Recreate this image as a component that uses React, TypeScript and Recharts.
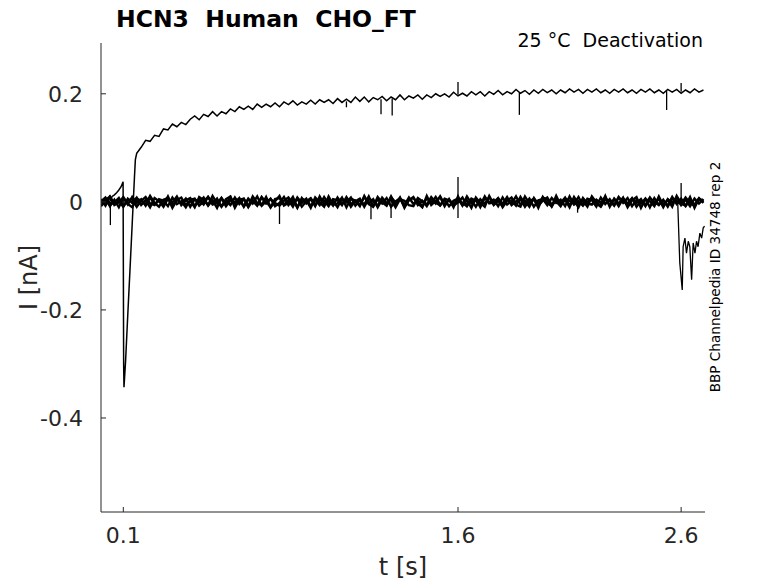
import React from 'react';
import { LineChart, Line, XAxis, YAxis } from 'recharts';

// sample times of the recorded sweeps (s)
const tGrid = [
  0.00, 0.02, 0.04, 0.06, 0.08, 0.10, 0.12, 0.14, 0.16, 0.18,
  0.20, 0.22, 0.24, 0.26, 0.28, 0.30, 0.32, 0.34, 0.36, 0.38,
  0.40, 0.42, 0.44, 0.46, 0.48, 0.50, 0.52, 0.54, 0.56, 0.58,
  0.60, 0.62, 0.64, 0.66, 0.68, 0.70, 0.72, 0.74, 0.76, 0.78,
  0.80, 0.82, 0.84, 0.86, 0.88, 0.90, 0.92, 0.94, 0.96, 0.98,
  1.00, 1.02, 1.04, 1.06, 1.08, 1.10, 1.12, 1.14, 1.16, 1.18,
  1.20, 1.22, 1.24, 1.26, 1.28, 1.30, 1.32, 1.34, 1.36, 1.38,
  1.40, 1.42, 1.44, 1.46, 1.48, 1.50, 1.52, 1.54, 1.56, 1.58,
  1.60, 1.62, 1.64, 1.66, 1.68, 1.70, 1.72, 1.74, 1.76, 1.78,
  1.80, 1.82, 1.84, 1.86, 1.88, 1.90, 1.92, 1.94, 1.96, 1.98,
  2.00, 2.02, 2.04, 2.06, 2.08, 2.10, 2.12, 2.14, 2.16, 2.18,
  2.20, 2.22, 2.24, 2.26, 2.28, 2.30, 2.32, 2.34, 2.36, 2.38,
  2.40, 2.42, 2.44, 2.46, 2.48, 2.50, 2.52, 2.54, 2.56, 2.58,
  2.60, 2.62, 2.64, 2.66, 2.68, 2.70,
];

// baseline sweeps (nA), one value per tGrid sample
const baseA = [
  0.005, -0.007, 0.009, -0.004, 0.002, -0.009, 0.006, -0.002, 0.008, -0.006,
  0.003, -0.010, 0.007, 0.001, -0.005, 0.010, -0.008, 0.004, -0.003, 0.006,
  -0.009, 0.005, -0.001, 0.008, -0.007, 0.003, -0.011, 0.007, -0.004, 0.009,
  -0.006, 0.002, -0.008, 0.006, -0.003, 0.010, -0.007, 0.001, -0.010, 0.005,
  0.007, -0.005, 0.003, -0.009, 0.008, -0.002, 0.006, -0.008, 0.004, -0.006,
  0.009, -0.004, 0.002, -0.010, 0.006, -0.001, 0.008, -0.007, 0.003, -0.005,
  0.010, -0.008, 0.004, -0.003, 0.007, -0.009, 0.001, 0.006, -0.006, 0.008,
  -0.004, 0.003, -0.009, 0.007, -0.002, 0.009, -0.006, 0.004, -0.008, 0.002,
  0.006, -0.007, 0.010, -0.003, 0.005, -0.010, 0.007, -0.001, 0.004, -0.008,
  0.008, -0.005, 0.002, -0.007, 0.009, -0.004, 0.006, -0.009, 0.003, 0.005,
  -0.006, 0.007, -0.002, 0.004, -0.008, 0.010, -0.005, 0.001, -0.007, 0.006,
  0.003, -0.009, 0.008, -0.004, 0.005, -0.006, 0.009, -0.002, 0.007, -0.008,
  0.004, -0.003, 0.006, -0.010, 0.007, -0.005, 0.002, -0.007, 0.009, -0.004,
  0.006, -0.008, 0.003, -0.005, 0.007, -0.002,
];

const baseB = [
  -0.003, 0.006, -0.008, 0.004, -0.010, 0.007, -0.005, 0.009, -0.002, 0.005,
  -0.007, 0.008, -0.004, 0.002, -0.009, 0.006, -0.001, 0.010, -0.006, 0.003,
  0.007, -0.008, 0.004, -0.005, 0.009, -0.003, 0.006, -0.009, 0.002, -0.006,
  0.008, -0.004, 0.005, -0.010, 0.003, -0.007, 0.009, -0.002, 0.006, -0.008,
  -0.002, 0.009, -0.006, 0.004, -0.011, 0.007, -0.003, 0.005, -0.008, 0.010,
  -0.005, 0.003, -0.007, 0.008, -0.004, 0.006, -0.009, 0.002, -0.006, 0.009,
  -0.003, 0.005, -0.010, 0.004, -0.006, 0.008, -0.001, 0.007, -0.009, 0.003,
  0.009, -0.006, 0.002, -0.008, 0.006, -0.003, 0.010, -0.005, 0.004, -0.007,
  -0.001, 0.008, -0.007, 0.003, -0.009, 0.005, -0.004, 0.009, -0.006, 0.002,
  -0.008, 0.006, -0.003, 0.010, -0.005, 0.002, -0.009, 0.007, -0.004, 0.008,
  0.004, -0.009, 0.006, -0.002, 0.008, -0.006, 0.003, -0.010, 0.007, -0.003,
  -0.005, 0.004, -0.002, 0.009, -0.007, 0.005, -0.008, 0.006, -0.003, 0.007,
  -0.009, 0.002, -0.006, 0.008, -0.004, 0.006, -0.010, 0.005, -0.002, 0.008,
  -0.006, 0.004, -0.008, 0.006, -0.003, 0.005,
];

const baseC = [
  0.001, 0.008, -0.005, -0.001, 0.007, -0.008, 0.003, 0.005, -0.009, 0.002,
  0.009, -0.003, -0.006, 0.005, 0.002, -0.008, 0.008, -0.004, 0.001, -0.010,
  0.004, 0.006, -0.007, 0.001, 0.009, -0.005, -0.002, 0.007, -0.008, 0.003,
  -0.001, 0.007, -0.009, 0.004, 0.001, -0.006, 0.008, -0.003, 0.005, -0.002,
  -0.007, 0.002, 0.008, -0.004, 0.006, -0.009, 0.001, 0.007, -0.005, 0.004,
  0.002, -0.008, 0.005, 0.003, -0.006, 0.009, -0.004, 0.001, 0.006, -0.009,
  0.006, 0.001, -0.007, 0.008, -0.002, 0.004, -0.010, 0.005, 0.002, -0.006,
  -0.008, 0.007, 0.001, -0.005, 0.009, -0.001, -0.007, 0.006, 0.003, -0.004,
  0.005, -0.002, -0.008, 0.006, 0.002, -0.006, 0.010, -0.003, -0.001, 0.007,
  -0.004, 0.009, -0.006, 0.001, 0.005, -0.009, 0.003, 0.004, -0.007, 0.002,
  0.008, -0.005, 0.001, -0.008, 0.006, 0.002, -0.004, 0.009, -0.006, 0.000,
  0.007, -0.003, -0.009, 0.004, 0.002, -0.007, 0.008, 0.001, -0.005, 0.006,
  -0.002, 0.005, -0.008, 0.007, 0.000, -0.006, 0.004, -0.009, 0.006, 0.001,
  -0.004, 0.008, -0.002, -0.007, 0.005, -0.001,
];

const baseD = [
  -0.008, 0.003, 0.010, -0.006, -0.001, 0.009, -0.004, -0.010, 0.006, 0.002,
  -0.005, 0.011, -0.002, -0.009, 0.004, 0.007, -0.011, 0.003, 0.008, -0.006,
  0.002, -0.010, 0.009, 0.003, -0.006, 0.011, -0.003, -0.008, 0.005, 0.010,
  -0.011, 0.004, 0.006, -0.008, 0.010, -0.002, -0.006, 0.009, -0.010, 0.001,
  0.011, -0.007, -0.002, 0.009, -0.010, 0.005, 0.003, -0.011, 0.008, -0.001,
  -0.009, 0.010, -0.005, -0.003, 0.008, -0.010, 0.006, 0.002, -0.008, 0.011,
  -0.004, -0.009, 0.009, -0.001, -0.007, 0.010, -0.005, 0.008, -0.011, 0.004,
  0.007, -0.003, -0.010, 0.011, -0.006, 0.002, 0.009, -0.008, 0.005, -0.010,
  0.010, -0.006, 0.003, -0.011, 0.008, -0.002, -0.009, 0.011, -0.004, 0.006,
  -0.010, 0.002, 0.008, -0.005, -0.009, 0.010, -0.003, 0.006, -0.011, 0.009,
  -0.002, -0.008, 0.011, -0.006, 0.004, -0.010, 0.009, -0.004, 0.002, -0.009,
  0.010, -0.001, -0.007, 0.011, -0.009, 0.006, -0.003, 0.008, -0.010, 0.003,
  0.009, -0.011, 0.005, 0.001, -0.008, 0.010, -0.006, 0.004, -0.009, 0.011,
  -0.003, -0.007, 0.009, -0.011, 0.006, 0.002,
];

// activating sweep: pre-step ramp, capacitive transient at 0.1 s
const riseT = [0.00, 0.01, 0.02, 0.03, 0.04, 0.05, 0.06, 0.07, 0.08, 0.09, 0.099, 0.1015, 0.103, 0.110, 0.120, 0.130, 0.140, 0.150, 0.154];
const riseI = [0.003, -0.004, 0.002, -0.003, 0.001, 0.010, 0.013, 0.017, 0.022, 0.028, 0.037, -0.300, -0.343, -0.296, -0.209, -0.125, -0.039, 0.046, 0.078];

// activating sweep from 0.16 s on (tGrid samples 0.16 ... 2.70)
const actI = [
  0.090, 0.101, 0.114, 0.112, 0.123, 0.121, 0.135, 0.133, 0.144, 0.139,
  0.147, 0.143, 0.153, 0.159, 0.152, 0.162, 0.158, 0.167, 0.159, 0.167,
  0.163, 0.172, 0.167, 0.176, 0.171, 0.177, 0.171, 0.181, 0.175, 0.181,
  0.176, 0.183, 0.176, 0.185, 0.180, 0.187, 0.179, 0.185, 0.181, 0.188,
  0.181, 0.189, 0.184, 0.189, 0.182, 0.191, 0.184, 0.190, 0.184, 0.194,
  0.186, 0.194, 0.185, 0.193, 0.189, 0.195, 0.187, 0.194, 0.189, 0.198,
  0.189, 0.196, 0.192, 0.198, 0.190, 0.198, 0.193, 0.200, 0.195, 0.200,
  0.194, 0.203, 0.196, 0.201, 0.196, 0.204, 0.198, 0.204, 0.196, 0.204,
  0.199, 0.206, 0.198, 0.204, 0.200, 0.208, 0.201, 0.206, 0.199, 0.207,
  0.201, 0.208, 0.202, 0.207, 0.200, 0.207, 0.202, 0.209, 0.203, 0.208,
  0.201, 0.208, 0.203, 0.209, 0.202, 0.207, 0.201, 0.208, 0.203, 0.209,
  0.202, 0.207, 0.201, 0.208, 0.203, 0.209, 0.202, 0.207, 0.201, 0.208,
  0.203, 0.208, 0.201, 0.207, 0.202, 0.209, 0.203, 0.207,
];

// sweep that breaks away at the end of the record
const tailT = [2.585, 2.594, 2.605, 2.609, 2.617, 2.624, 2.632, 2.639, 2.647, 2.654, 2.662, 2.669, 2.676, 2.684, 2.692, 2.699, 2.705];
const tailI = [-0.004, -0.113, -0.163, -0.083, -0.067, -0.095, -0.073, -0.083, -0.144, -0.076, -0.095, -0.073, -0.083, -0.058, -0.067, -0.048, -0.045];

// short artefact spikes: time, lower and upper end (nA)
const spikeT = [0.042, 0.80, 1.21, 1.30, 1.60, 2.136, 2.60, 1.10, 1.255, 1.305, 1.60, 1.875, 2.535, 2.60];
const spikeLo = [-0.043, -0.041, -0.032, -0.030, -0.030, -0.020, -0.005, 0.175, 0.162, 0.160, 0.198, 0.161, 0.170, 0.204];
const spikeHi = [0.000, 0.000, 0.000, 0.000, 0.046, 0.000, 0.035, 0.186, 0.190, 0.191, 0.222, 0.202, 0.205, 0.220];

const xTicks = [0.1, 1.6, 2.6];
const yTicks = [-0.4, -0.2, 0, 0.2];

const FONT = '"DejaVu Sans", sans-serif';
const INK = '#262626';

const toPoints = (ts: number[], vs: number[]) => vs.map((v, i) => ({ t: ts[i], v }));

const baseSweeps = [baseA, baseB, baseC, baseD].map((vs) => toPoints(tGrid, vs));
const actSweep = [...toPoints(riseT, riseI), ...toPoints(tGrid.slice(8), actI)];
const tailSweep = toPoints(tailT, tailI);
const spikes = spikeT.map((t, i) => [{ t, v: spikeLo[i] }, { t, v: spikeHi[i] }]);

export default function App() {
  const tickStyle = { fill: INK, fontSize: 22, fontFamily: FONT };

  return (
    <div style={{ position: 'absolute', left: 0, top: 0, width: 778, height: 583, background: '#fff' }}>
      <LineChart width={778} height={583} margin={{ top: 43, right: 73, bottom: 31, left: 41 }}>
        <XAxis
          dataKey="t"
          type="number"
          domain={[0, 2.707]}
          ticks={xTicks}
          allowDataOverflow
          height={40}
          tickSize={-5}
          tickMargin={20}
          tick={tickStyle}
          axisLine={{ stroke: INK }}
          tickLine={{ stroke: INK }}
        />
        <YAxis
          type="number"
          domain={[-0.574, 0.294]}
          ticks={yTicks}
          allowDataOverflow
          width={60}
          tickSize={-5}
          tickMargin={23}
          tick={tickStyle}
          axisLine={{ stroke: INK }}
          tickLine={{ stroke: INK }}
        />
        {baseSweeps.map((d, i) => (
          <Line key={`b${i}`} data={d} dataKey="v" stroke="#000" strokeWidth={2.4} dot={false} activeDot={false} isAnimationActive={false} />
        ))}
        <Line data={actSweep} dataKey="v" stroke="#000" strokeWidth={1.5} dot={false} activeDot={false} isAnimationActive={false} />
        <Line data={tailSweep} dataKey="v" stroke="#000" strokeWidth={1.3} dot={false} activeDot={false} isAnimationActive={false} />
        {spikes.map((d, i) => (
          <Line key={`s${i}`} data={d} dataKey="v" stroke="#000" strokeWidth={1.3} dot={false} activeDot={false} isAnimationActive={false} />
        ))}
      </LineChart>

      <svg width={778} height={583} style={{ position: 'absolute', left: 0, top: 0, pointerEvents: 'none' }}>
        <text x={116} y={27} fontFamily={FONT} fontWeight="bold" fontSize={23.5} fill="#000" style={{ whiteSpace: 'pre' }}>HCN3  Human  CHO_FT</text>
        <text x={703} y={47} fontFamily={FONT} fontSize={19} fill="#000" textAnchor="end" style={{ whiteSpace: 'pre' }}>25 °C  Deactivation</text>
        <text transform="translate(719.5, 277) rotate(-90)" fontFamily={FONT} fontSize={13.6} fill="#000" textAnchor="middle">BBP Channelpedia ID 34748 rep 2</text>
        <text transform="translate(36.5, 277.5) rotate(-90)" fontFamily={FONT} fontSize={24} fill={INK} textAnchor="middle">I [nA]</text>
        <text x={403} y={575} fontFamily={FONT} fontSize={24} fill={INK} textAnchor="middle">t [s]</text>
      </svg>
    </div>
  );
}
